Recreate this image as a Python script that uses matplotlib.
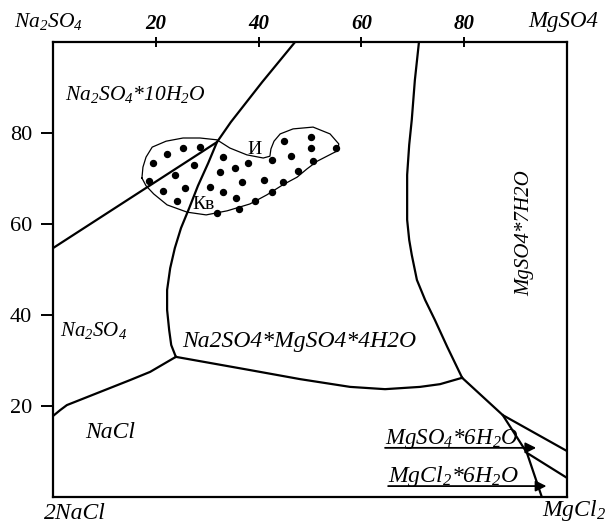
import matplotlib
matplotlib.use("Agg")
import matplotlib.pyplot as plt

plt.rcParams['font.family'] = ['Liberation Serif', 'DejaVu Serif']
plt.rcParams['mathtext.fontset'] = 'custom'
plt.rcParams['mathtext.rm'] = 'Liberation Serif:italic'
plt.rcParams['mathtext.it'] = 'Liberation Serif:italic'

# phase boundaries (% MgSO4 along x, % sulphate along y)
line_a_x = [0, 31.9, 34.6, 40.7, 47.1]
line_a_y = [54.7, 78.0, 82.4, 91.2, 100]
line_b_x = [31.9, 30.2, 28.2, 26.5, 24.9, 23.7, 22.8, 22.2, 22.2, 22.6, 23.0, 23.9]
line_b_y = [78.0, 73.4, 68.4, 63.5, 59.1, 54.7, 50.3, 45.5, 41.1, 36.7, 33.4, 30.8]
line_c_x = [23.9, 18.9, 15.0, 2.7, 1.4, 0]
line_c_y = [30.8, 27.5, 25.7, 20.2, 19.1, 17.8]
line_d_x = [23.9, 38.3, 48.1, 57.8, 64.6, 71.4, 75.3, 79.6]
line_d_y = [30.8, 27.9, 25.9, 24.2, 23.7, 24.2, 24.8, 26.2]
line_e_x = [71.2, 70.4, 69.8, 69.3, 68.9, 68.9, 69.3, 69.8, 70.8, 72.4, 74.3, 76.7, 79.6]
line_e_y = [100, 91.6, 82.9, 77.4, 70.8, 60.9, 56.5, 53.2, 47.7, 43.3, 38.9, 33.0, 26.2]
line_f_x = [79.6, 87.5, 100]
line_f_y = [26.2, 18.0, 10.1]
line_g_x = [87.5, 92.2, 95.1]
line_g_y = [18.0, 9.7, 0]
line_h_x = [92.2, 100]
line_h_y = [9.7, 4.2]

# outline of the sampled-waters field
blob_x = [17.3, 17.5, 18.1, 19.3, 22.0, 25.3, 28.6, 31.9, 34.4, 37.7, 40.9, 42.2,
          42.4, 43.0, 44.2, 46.7, 50.6, 53.9, 55.6, 55.4, 54.5, 51.4, 49.4, 47.5,
          44.7, 41.6, 38.3, 33.9, 29.8, 26.1, 22.2, 19.6, 18.1, 17.3]
blob_y = [70.1, 72.5, 74.7, 76.9, 78.2, 78.9, 78.9, 78.5, 76.7, 75.2, 74.5, 74.9,
          76.5, 78.2, 79.8, 80.9, 81.3, 79.8, 77.6, 76.1, 75.6, 73.8, 72.1, 70.3,
          68.6, 66.4, 64.4, 62.9, 62.0, 62.6, 64.2, 66.6, 68.4, 70.1]

dots_x = [19.5, 22.2, 25.3, 28.6, 18.7, 23.7, 27.4, 21.4, 25.7, 24.1, 33.1, 32.5,
          35.4, 37.9, 30.5, 33.1, 36.8, 35.6, 39.3, 36.2, 31.9, 42.6, 41.1, 44.7,
          42.6, 44.9, 46.3, 47.7, 50.2, 50.2, 50.6, 55.1]
dots_y = [73.4, 75.4, 76.7, 76.9, 69.5, 70.8, 73.0, 67.3, 67.9, 65.1, 74.7, 71.4,
          72.3, 73.4, 68.1, 67.0, 69.2, 65.7, 65.1, 63.3, 62.4, 74.1, 69.7, 69.2,
          67.0, 78.2, 74.9, 71.6, 79.1, 76.7, 73.8, 76.7]

x_ticks = [20, 40, 60, 80]
y_ticks = [20, 40, 60, 80]

fig = plt.figure(figsize=(6.08, 5.24), dpi=100)
ax = fig.add_axes([53 / 608, 27 / 524, 514 / 608, 455 / 524])
ax.set_xlim(0, 100)
ax.set_ylim(0, 100)

lw = 1.6
for xs, ys in [(line_a_x, line_a_y), (line_b_x, line_b_y), (line_c_x, line_c_y),
               (line_d_x, line_d_y), (line_e_x, line_e_y), (line_f_x, line_f_y),
               (line_g_x, line_g_y), (line_h_x, line_h_y)]:
    ax.plot(xs, ys, color='black', lw=lw, solid_joinstyle='round')

ax.plot(blob_x, blob_y, color='black', lw=0.9, solid_joinstyle='round')
ax.plot(dots_x, dots_y, 'o', color='black', ms=4.3, ls='none')

for s in ax.spines.values():
    s.set_linewidth(1.6)

ax.xaxis.tick_top()
ax.set_xticks(x_ticks)
ax.set_xticklabels([str(v) for v in x_ticks], fontstyle='italic', fontweight='bold', fontsize=15)
ax.tick_params(axis='x', direction='inout', length=7, width=1.4, pad=2)
ax.set_yticks(y_ticks)
ax.set_yticklabels([str(v) for v in y_ticks], fontsize=16)
ax.tick_params(axis='y', direction='out', length=9, width=1.4, pad=6)

ax.text(2.3, 88.4, r"Na$_2$SO$_4$*10H$_2$O", fontsize=15.5, fontstyle='italic', va='center')
ax.text(39.3, 76.3, "И", fontsize=14, ha='center', va='center')
ax.text(29.2, 64.2, "Кв", fontsize=14, ha='center', va='center')
ax.text(1.4, 36.7, r"Na$_2$SO$_4$", fontsize=15, fontstyle='italic', va='center')
ax.text(25.1, 34.1, "Na2SO4*MgSO4*4H2O", fontsize=17, fontstyle='italic', va='center')
ax.text(6.3, 14.1, "NaCl", fontsize=17, fontstyle='italic', va='center')
ax.text(91.8, 58.0, "MgSO4*7H2O", fontsize=15, fontstyle='italic', va='center',
        ha='center', rotation=90)

ax.text(64.6, 11.6, r"MgSO$_4$*6H$_2$O", fontsize=16.5, fontstyle='italic', va='baseline')
ax.annotate("", xy=(94.0, 10.8), xytext=(64.6, 10.8),
            arrowprops=dict(arrowstyle='-|>', color='black', lw=1.3, mutation_scale=16,
                            shrinkA=0, shrinkB=0))
ax.text(65.2, 3.2, r"MgCl$_2$*6H$_2$O", fontsize=17, fontstyle='italic', va='baseline')
ax.annotate("", xy=(96.0, 2.4), xytext=(65.2, 2.4),
            arrowprops=dict(arrowstyle='-|>', color='black', lw=1.3, mutation_scale=16,
                            shrinkA=0, shrinkB=0))

ax.text(-7.6, 104.4, r"Na$_2$SO$_4$", fontsize=15.5, fontstyle='italic', va='center',
        clip_on=False)
ax.text(99.2, 104.4, "MgSO4", fontsize=16.5, fontstyle='italic', va='center', ha='center',
        clip_on=False)
ax.text(4.3, -3.7, "2NaCl", fontsize=17, fontstyle='italic', va='center', ha='center',
        clip_on=False)
ax.text(101.4, -2.9, r"MgCl$_2$", fontsize=17, fontstyle='italic', va='center',
        ha='center', clip_on=False)

fig.savefig("out.png", dpi=100)
